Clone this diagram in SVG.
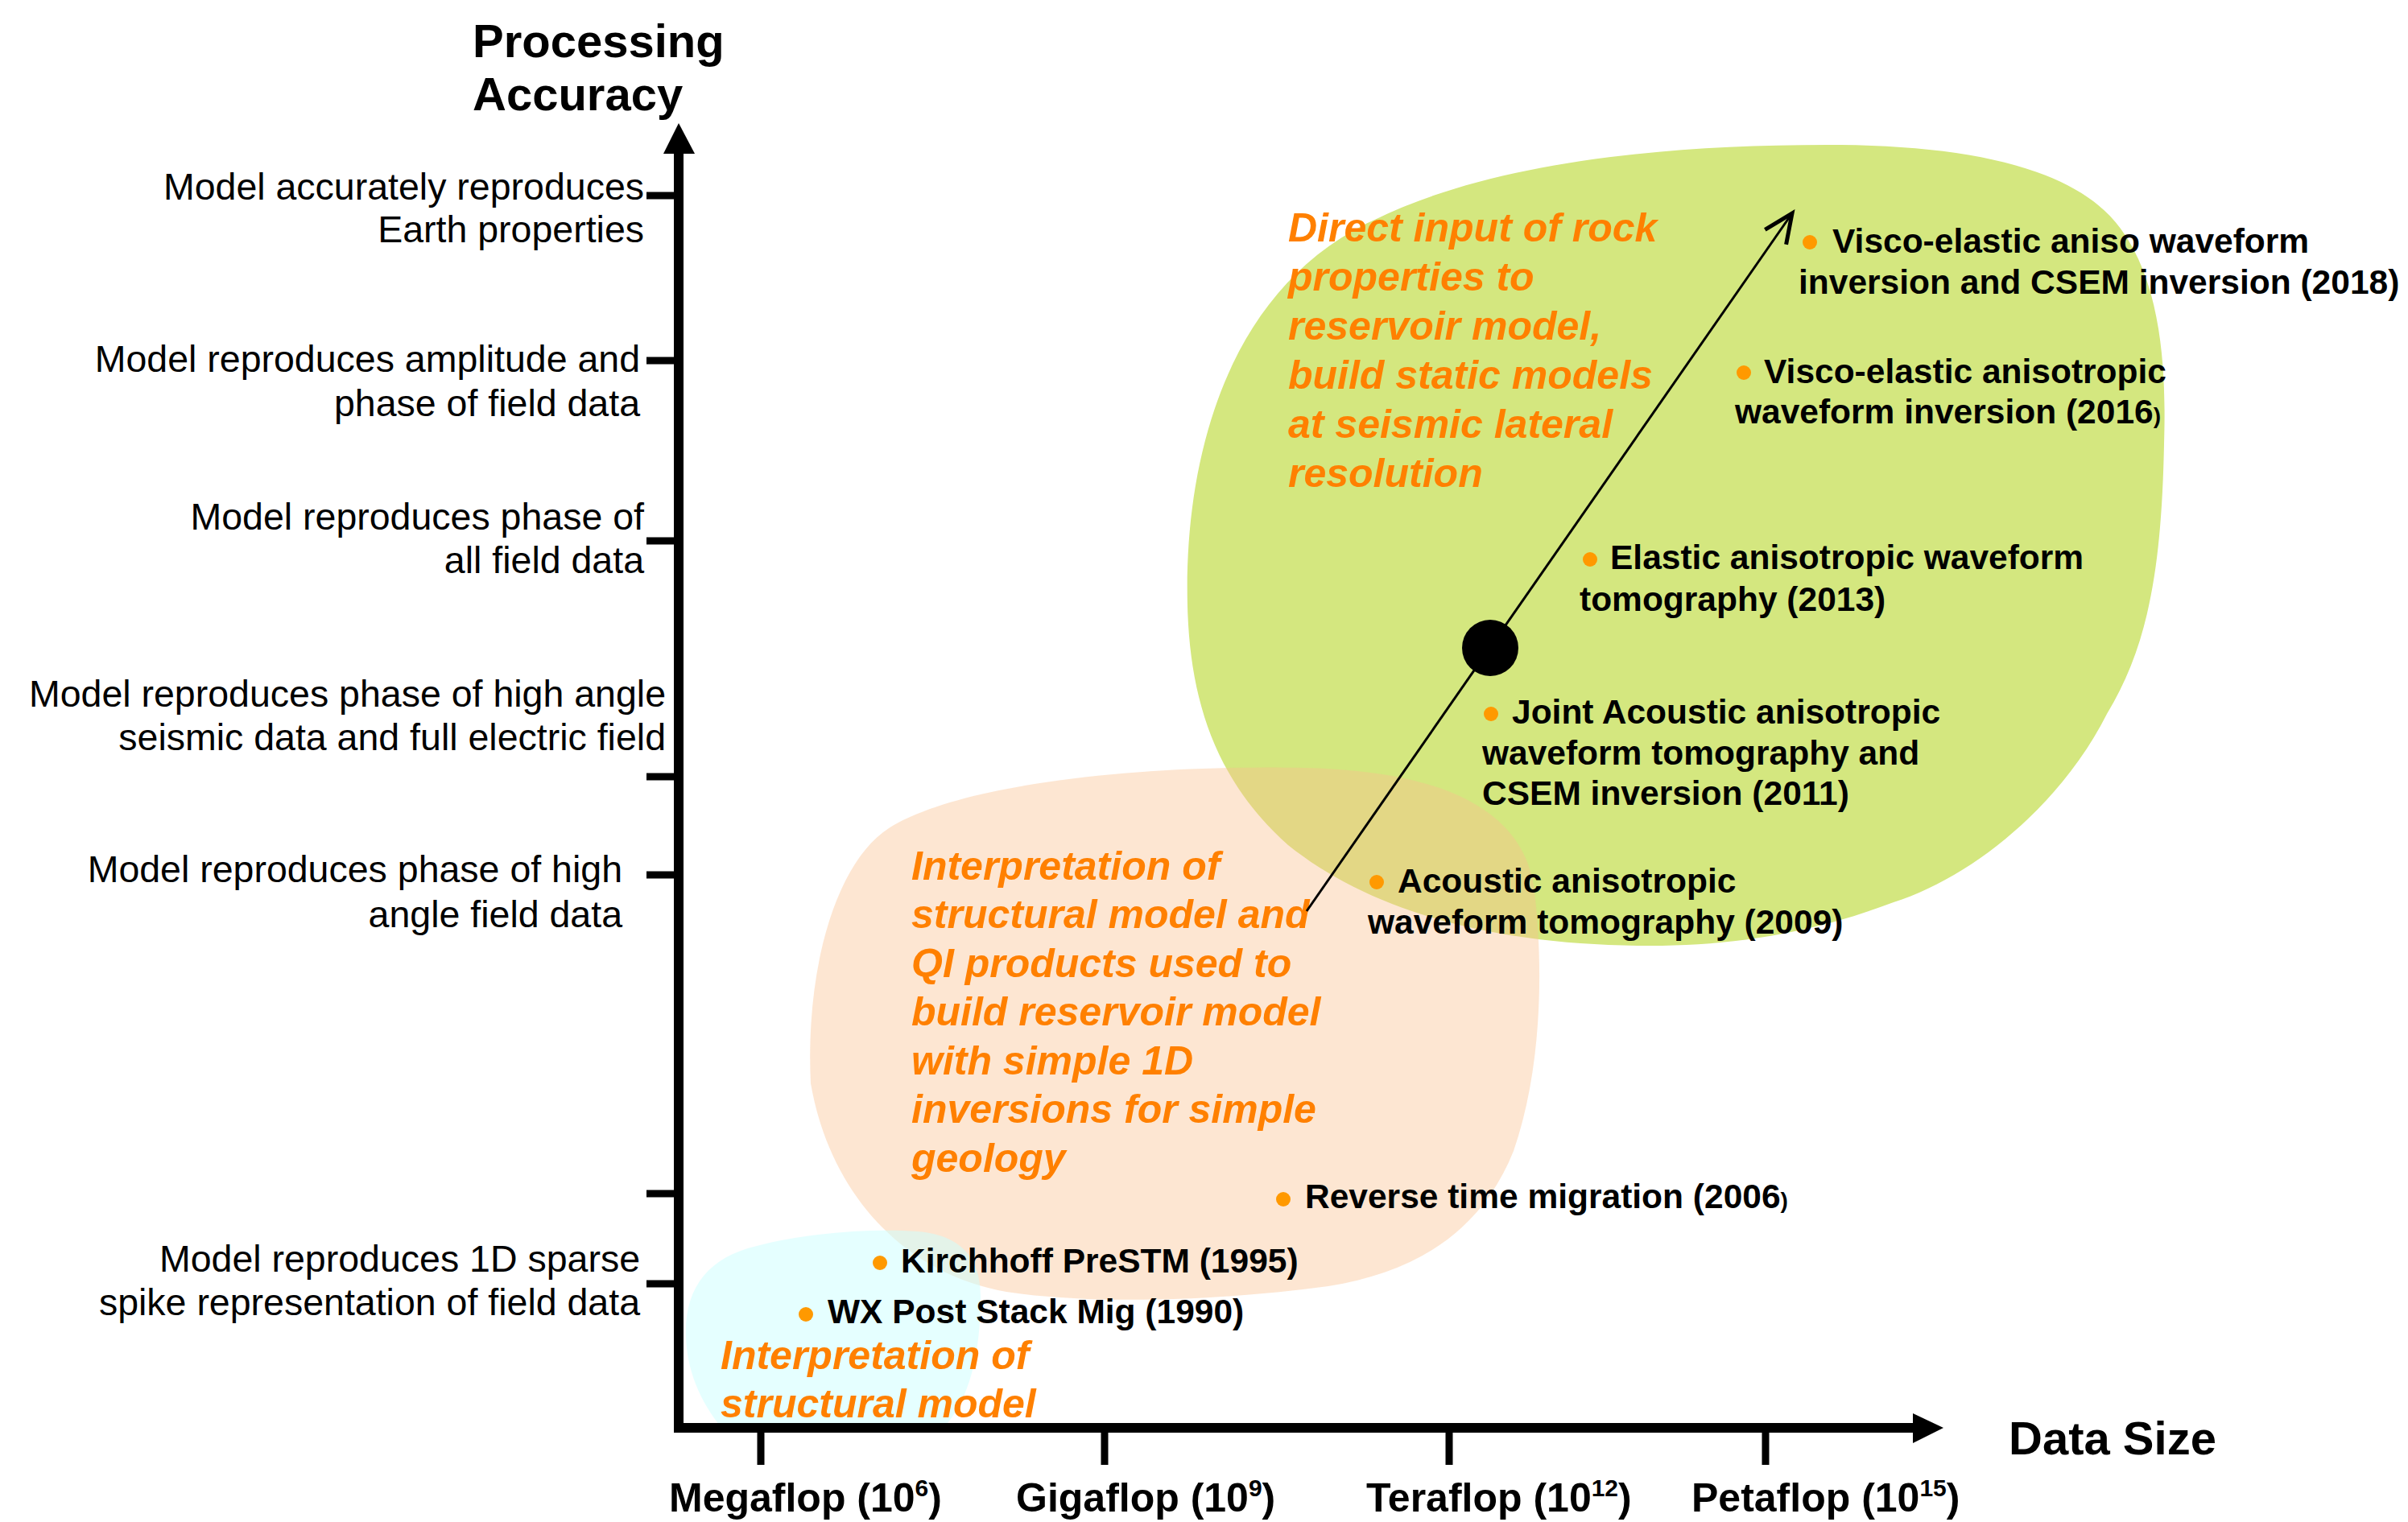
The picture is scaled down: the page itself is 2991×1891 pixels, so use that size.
<svg xmlns="http://www.w3.org/2000/svg" width="2991" height="1891" viewBox="0 0 2991 1891">
<defs>
<style>
.ylab{font-family:"Liberation Sans",Arial,sans-serif;font-size:46.5px;fill:#000;text-anchor:end}
.title{font-family:"Liberation Sans",Arial,sans-serif;font-size:58px;font-weight:bold;fill:#000}
.xlab{font-family:"Liberation Sans",Arial,sans-serif;font-size:50px;font-weight:bold;fill:#000}
.ev{font-family:"Liberation Sans",Arial,sans-serif;font-size:42.5px;font-weight:bold;fill:#000}
.note{font-family:"Liberation Sans",Arial,sans-serif;font-size:50px;font-weight:bold;font-style:italic;fill:#FF8000}
.dot{fill:#FF9900}
.tick{stroke:#000;stroke-width:9}
</style>
<marker id="openArrow" markerUnits="userSpaceOnUse" markerWidth="80" markerHeight="80" viewBox="-40 -40 80 80" refX="0" refY="0" orient="auto" overflow="visible">
<path d="M -36,-16 L 0,0 L -36,16" fill="none" stroke="#000" stroke-width="5" stroke-linejoin="miter"/>
</marker>
</defs>
<rect width="2991" height="1891" fill="#fff"/>

<g id="region-green">
<path d="M 1475,753 C 1470,560 1530,350 1714,270 C 1850,205 2050,180 2269,180 C 2450,180 2580,210 2634,284 C 2690,360 2690,480 2688,552 C 2685,700 2670,800 2617,887 C 2560,1000 2450,1090 2352,1121 C 2250,1160 2150,1175 2050,1175 C 1850,1175 1700,1130 1600,1050 C 1510,970 1478,870 1475,753 Z" fill="#D4E77F"/>
</g>
<g id="region-orange">
<path d="M 1007,1346 C 1000,1200 1040,1070 1104,1029 C 1200,968 1450,950 1620,954 C 1800,958 1890,1010 1905,1100 C 1918,1200 1915,1330 1880,1430 C 1840,1530 1760,1580 1650,1598 C 1500,1618 1350,1620 1250,1605 C 1120,1582 1030,1480 1007,1346 Z" fill="#FAC08F" fill-opacity="0.4"/>
</g>
<g id="region-cyan">
<path d="M 852,1660 C 850,1600 880,1562 940,1548 C 1000,1532 1080,1526 1140,1530 C 1200,1535 1218,1570 1218,1610 C 1218,1680 1205,1740 1170,1776 L 898,1776 C 868,1740 853,1700 852,1660 Z" fill="#CCFFFF" fill-opacity="0.5"/>
</g>

<g id="axes">
<rect x="837" y="188" width="12" height="1592"/>
<polygon points="824,191 843,153 863,191"/>
<rect x="837" y="1768" width="1541" height="12"/>
<polygon points="2376,1756 2414,1774 2376,1793"/>
<line class="tick" x1="803" y1="243" x2="843" y2="243"/>
<line class="tick" x1="803" y1="448" x2="843" y2="448"/>
<line class="tick" x1="803" y1="672" x2="843" y2="672"/>
<line class="tick" x1="803" y1="965" x2="843" y2="965"/>
<line class="tick" x1="803" y1="1087" x2="843" y2="1087"/>
<line class="tick" x1="803" y1="1483" x2="843" y2="1483"/>
<line class="tick" x1="803" y1="1595" x2="843" y2="1595"/>
<line class="tick" x1="945" y1="1774" x2="945" y2="1820" stroke-width="8"/>
<line class="tick" x1="1372" y1="1774" x2="1372" y2="1820" stroke-width="8"/>
<line class="tick" x1="1800" y1="1774" x2="1800" y2="1820" stroke-width="8"/>
<line class="tick" x1="2193" y1="1774" x2="2193" y2="1820" stroke-width="8"/>
</g>

<g id="axis-title-y">
<text class="title" x="587" y="71">Processing</text>
<text class="title" x="587" y="137">Accuracy</text>
</g>
<g id="axis-title-x">
<text class="title" x="2495" y="1807">Data Size</text>
</g>

<g id="ylabel-1"><text class="ylab" x="800" y="248">Model accurately reproduces</text><text class="ylab" x="800" y="301">Earth properties</text></g>
<g id="ylabel-2"><text class="ylab" x="795" y="462">Model reproduces amplitude and</text><text class="ylab" x="795" y="517">phase of field data</text></g>
<g id="ylabel-3"><text class="ylab" x="800" y="658">Model reproduces phase of</text><text class="ylab" x="800" y="712">all field data</text></g>
<g id="ylabel-4"><text class="ylab" x="827" y="878">Model reproduces phase of high angle</text><text class="ylab" x="827" y="932">seismic data and full electric field</text></g>
<g id="ylabel-5"><text class="ylab" x="773" y="1096">Model reproduces phase of high</text><text class="ylab" x="773" y="1152">angle field data</text></g>
<g id="ylabel-6"><text class="ylab" x="795" y="1580">Model reproduces 1D sparse</text><text class="ylab" x="795" y="1634">spike representation of field data</text></g>

<g id="xlabel-mega"><text class="xlab" x="831" y="1878">Megaflop (10<tspan font-size="30" dy="-19">6</tspan><tspan dy="19">)</tspan></text></g>
<g id="xlabel-giga"><text class="xlab" x="1262" y="1878">Gigaflop (10<tspan font-size="30" dy="-19">9</tspan><tspan dy="19">)</tspan></text></g>
<g id="xlabel-tera"><text class="xlab" x="1697" y="1878">Teraflop (10<tspan font-size="30" dy="-19">12</tspan><tspan dy="19">)</tspan></text></g>
<g id="xlabel-peta"><text class="xlab" x="2101" y="1878">Petaflop (10<tspan font-size="30" dy="-19">15</tspan><tspan dy="19">)</tspan></text></g>

<g id="note-green">
<text class="note" x="1600" y="300">Direct input of rock</text>
<text class="note" x="1600" y="361">properties to</text>
<text class="note" x="1600" y="422">reservoir model,</text>
<text class="note" x="1600" y="483">build static models</text>
<text class="note" x="1600" y="544">at seismic lateral</text>
<text class="note" x="1600" y="605">resolution</text>
</g>
<g id="note-orange">
<text class="note" x="1132" y="1093">Interpretation of</text>
<text class="note" x="1132" y="1153">structural model and</text>
<text class="note" x="1132" y="1214">QI products used to</text>
<text class="note" x="1132" y="1274">build reservoir model</text>
<text class="note" x="1132" y="1335">with simple 1D</text>
<text class="note" x="1132" y="1395">inversions for simple</text>
<text class="note" x="1132" y="1456">geology</text>
</g>
<g id="note-cyan">
<text class="note" x="895" y="1701">Interpretation of</text>
<text class="note" x="895" y="1761">structural model</text>
</g>

<g id="connectors">
<line x1="1623" y1="1132" x2="2226" y2="265" stroke="#000" stroke-width="3" marker-end="url(#openArrow)"/>
<circle cx="1851" cy="805" r="35" fill="#000"/>
</g>

<g id="ev-2018"><circle class="dot" cx="2248" cy="301" r="9"/><text class="ev" x="2276" y="314">Visco-elastic aniso waveform</text><text class="ev" x="2234" y="365">inversion and CSEM inversion (2018)</text></g>
<g id="ev-2016"><circle class="dot" cx="2166" cy="463" r="9"/><text class="ev" x="2191" y="476">Visco-elastic anisotropic</text><text class="ev" x="2155" y="526">waveform inversion (2016<tspan font-size="28">)</tspan></text></g>
<g id="ev-2013"><circle class="dot" cx="1975" cy="695" r="9"/><text class="ev" x="2000" y="707">Elastic anisotropic waveform</text><text class="ev" x="1962" y="759">tomography (2013)</text></g>
<g id="ev-2011"><circle class="dot" cx="1852" cy="887" r="9"/><text class="ev" x="1878" y="899">Joint Acoustic anisotropic</text><text class="ev" x="1841" y="950">waveform tomography and</text><text class="ev" x="1841" y="1000">CSEM inversion (2011)</text></g>
<g id="ev-2009"><circle class="dot" cx="1710" cy="1096" r="9"/><text class="ev" x="1736" y="1109">Acoustic anisotropic</text><text class="ev" x="1699" y="1160">waveform tomography (2009)</text></g>
<g id="ev-2006"><circle class="dot" cx="1594" cy="1490" r="9"/><text class="ev" x="1621" y="1501">Reverse time migration (2006<tspan font-size="28">)</tspan></text></g>
<g id="ev-1995"><circle class="dot" cx="1093" cy="1569" r="9"/><text class="ev" x="1119" y="1581">Kirchhoff PreSTM (1995)</text></g>
<g id="ev-1990"><circle class="dot" cx="1001" cy="1633" r="9"/><text class="ev" x="1028" y="1644">WX Post Stack Mig (1990)</text></g>
</svg>
